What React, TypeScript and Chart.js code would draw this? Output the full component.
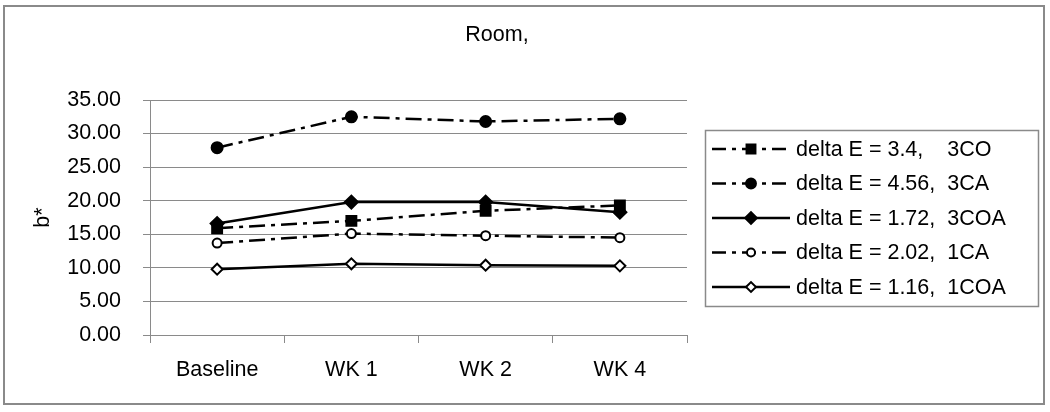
import React, { useEffect, useRef } from 'react';
import { Chart, registerables } from 'chart.js';

Chart.register(...registerables);

const categories = ['Baseline', 'WK 1', 'WK 2', 'WK 4'];
const values3CO = [15.9, 17.0, 18.5, 19.3];
const values3CA = [27.9, 32.5, 31.8, 32.2];
const values3COA = [16.6, 19.8, 19.8, 18.3];
const values1CA = [13.7, 15.1, 14.8, 14.5];
const values1COA = [9.8, 10.6, 10.4, 10.3];
const seriesLabels = [
  'delta E = 3.4,    3CO',
  'delta E = 4.56,  3CA',
  'delta E = 1.72,  3COA',
  'delta E = 2.02,  1CA',
  'delta E = 1.16,  1COA',
];
const titleText = 'Room,';
const yAxisTitle = 'b*';
const yMin = 0;
const yMax = 35;
const yStep = 5;

const FONT = "'Liberation Sans', Arial, sans-serif";
const FS = 21.5;
const GRAY = '#8a8a8a';
const DASH_DOT = [16, 6, 4, 6];

type MarkerStyle = { shape: 'rect' | 'circle' | 'rectRot'; radius: number; filled: boolean };

function drawMarker(ctx: CanvasRenderingContext2D, m: MarkerStyle, x: number, y: number, scale = 1) {
  const r = m.radius * scale;
  ctx.save();
  ctx.setLineDash([]);
  ctx.beginPath();
  if (m.shape === 'circle') {
    ctx.arc(x, y, r, 0, Math.PI * 2);
  } else if (m.shape === 'rect') {
    const s = r * Math.SQRT1_2;
    ctx.rect(x - s, y - s, 2 * s, 2 * s);
  } else {
    ctx.moveTo(x - r, y);
    ctx.lineTo(x, y - r);
    ctx.lineTo(x + r, y);
    ctx.lineTo(x, y + r);
    ctx.closePath();
  }
  ctx.fillStyle = m.filled ? '#000' : '#fff';
  ctx.fill();
  ctx.lineWidth = 2;
  ctx.strokeStyle = '#000';
  ctx.stroke();
  ctx.restore();
}

const markers: MarkerStyle[] = [
  { shape: 'rect', radius: 7, filled: true },
  { shape: 'circle', radius: 5.5, filled: true },
  { shape: 'rectRot', radius: 6.5, filled: true },
  { shape: 'circle', radius: 4.5, filled: false },
  { shape: 'rectRot', radius: 5.5, filled: false },
];
const dashes = [DASH_DOT, DASH_DOT, [], DASH_DOT, []];
const seriesValues = [values3CO, values3CA, values3COA, values1CA, values1COA];

const decorPlugin = {
  id: 'decor',
  beforeDraw(chart: any) {
    const ctx = chart.ctx as CanvasRenderingContext2D;
    ctx.save();
    ctx.fillStyle = '#fff';
    ctx.fillRect(0, 0, chart.width, chart.height);
    ctx.strokeStyle = GRAY;
    ctx.lineWidth = 2;
    ctx.strokeRect(4, 6, 1040, 398);
    ctx.restore();
  },
  afterDraw(chart: any) {
    const ctx = chart.ctx as CanvasRenderingContext2D;
    ctx.save();
    // title
    ctx.fillStyle = '#000';
    ctx.font = `${FS}px ${FONT}`;
    ctx.textAlign = 'center';
    ctx.textBaseline = 'middle';
    ctx.fillText(titleText, 497, 35);
    // legend
    ctx.strokeStyle = GRAY;
    ctx.lineWidth = 1.5;
    ctx.strokeRect(705.5, 130.5, 333, 176);
    chart.data.datasets.forEach((ds: any, i: number) => {
      const y = 149 + i * 34.5;
      ctx.save();
      ctx.strokeStyle = '#000';
      ctx.lineWidth = 2.5;
      ctx.setLineDash(ds.borderDash && ds.borderDash.length ? [14, 6, 4, 6] : []);
      ctx.beginPath();
      ctx.moveTo(712, y);
      ctx.lineTo(790, y);
      ctx.stroke();
      ctx.restore();
      drawMarker(ctx, markers[i], 751, y, 0.9);
      ctx.fillStyle = '#000';
      ctx.textAlign = 'left';
      ctx.textBaseline = 'middle';
      ctx.font = `${FS}px ${FONT}`;
      ctx.fillText(ds.label, 796, y + 1);
    });
    ctx.restore();
  },
};

export default function App() {
  const canvasRef = useRef<HTMLCanvasElement | null>(null);

  useEffect(() => {
    document.body.style.margin = '0';
    const canvas = canvasRef.current;
    if (!canvas) return;
    Chart.defaults.font.family = FONT;
    Chart.defaults.color = '#000';

    const datasets = seriesValues.map((vals, i) => {
      const m = markers[i];
      return {
        label: seriesLabels[i],
        data: vals,
        borderColor: '#000',
        borderWidth: 2.5,
        borderDash: dashes[i],
        fill: false,
        tension: 0,
        pointStyle: m.shape,
        pointRadius: m.radius,
        pointBackgroundColor: m.filled ? '#000' : '#fff',
        pointBorderColor: '#000',
        pointBorderWidth: 2,
      };
    });

    const chart = new Chart(canvas, {
      type: 'line',
      data: { labels: categories, datasets },
      options: {
        animation: false,
        responsive: false,
        devicePixelRatio: 1,
        layout: { padding: { top: 100, right: 363, bottom: 0, left: 0 } },
        plugins: {
          legend: { display: false },
          title: { display: false },
          tooltip: { enabled: false },
        },
        scales: {
          x: {
            type: 'category',
            offset: true,
            grid: { offset: true, drawOnChartArea: false, drawTicks: true, tickLength: 8, color: GRAY },
            border: { color: GRAY, width: 1 },
            ticks: { padding: 14, font: { size: FS, family: FONT }, color: '#000', maxRotation: 0 },
            afterFit: (scale: any) => {
              scale.height = 77;
            },
          },
          y: {
            min: yMin,
            max: yMax,
            grid: { color: GRAY, tickLength: 7, drawTicks: true },
            border: { color: GRAY, width: 1 },
            ticks: {
              stepSize: yStep,
              padding: 22,
              font: { size: FS, family: FONT },
              color: '#000',
              callback: (v: any) => Number(v).toFixed(2),
            },
            title: {
              display: true,
              text: yAxisTitle,
              font: { size: FS, family: FONT },
              color: '#000',
              padding: { top: 30, bottom: 0 },
            },
            afterFit: (scale: any) => {
              scale.width = 150;
            },
          },
        },
      },
      plugins: [decorPlugin],
    } as any);

    return () => {
      chart.destroy();
    };
  }, []);

  return (
    <div style={{ width: 1050, height: 412 }}>
      <canvas ref={canvasRef} width={1050} height={412} style={{ width: 1050, height: 412, display: 'block' }} />
    </div>
  );
}
